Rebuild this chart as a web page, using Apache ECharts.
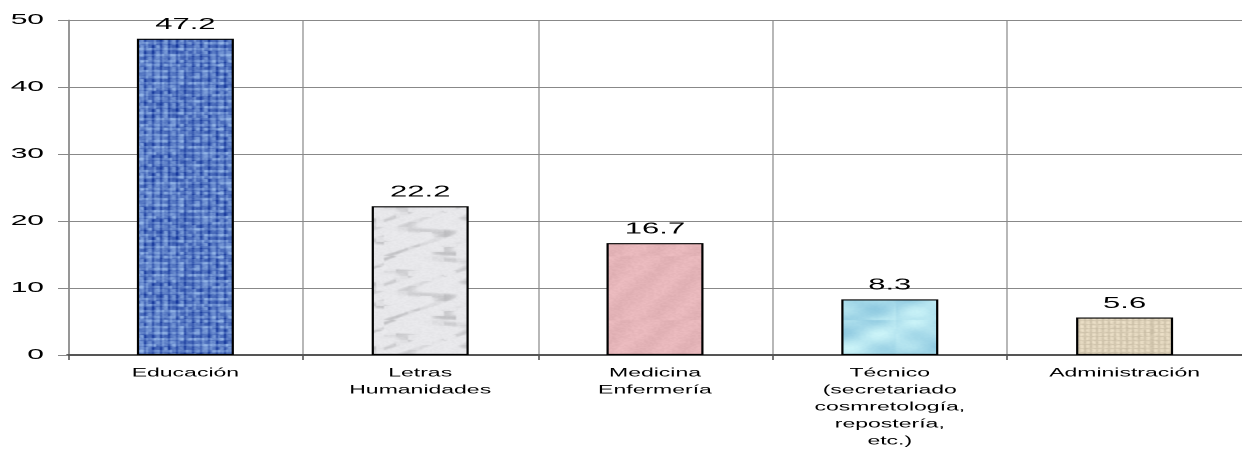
<!DOCTYPE html>
<html>
<head>
<meta charset="utf-8">
<style>
  html, body { margin: 0; padding: 0; background: #fff; overflow: hidden; }
  /* The chart is laid out at half width and stretched horizontally,
     giving the wide, flattened lettering of the original spreadsheet export. */
  #chart { width: 621px; height: 450px; transform: scaleX(2); transform-origin: 0 0; }
</style>
<script src="https://cdn.jsdelivr.net/npm/echarts@6/dist/echarts.min.js"></script>
</head>
<body>
<div id="chart"></div>
<script>
// Areas of study and their percentage
const categories = [
  'Educación',
  'Letras\nHumanidades',
  'Medicina\nEnfermería',
  'Técnico\n(secretariado\ncosmretología,\nrepostería,\netc.)',
  'Administración'
];
const values = [47.2, 22.2, 16.7, 8.3, 5.6];
const yTicks = [0, 10, 20, 30, 40, 50];

// Deterministic hash noise for the fabric / stone / water textures
function hash(x, y, s) {
  const v = Math.sin(x * 127.1 + y * 311.7 + s * 74.7) * 43758.5453;
  return v - Math.floor(v);
}

function makeTexture(kind) {
  const size = 64;
  const c = document.createElement('canvas');
  c.width = size; c.height = size;
  const ctx = c.getContext('2d');
  const img = ctx.createImageData(size, size);
  for (let y = 0; y < size; y++) {
    for (let x = 0; x < size; x++) {
      let r, g, b;
      const n = hash(x, y, 1);
      if (kind === 'weaveBlue') {
        const cx = Math.floor(x / 2), cy = Math.floor(y / 3);
        const cell = hash(cx, cy, 3);
        const warp = (x % 4 < 1) ? -45 : 0;
        const weft = (y % 6 < 2) ? 30 : 0;
        const k = warp + weft + (cell - 0.5) * 60 + (n - 0.5) * 20;
        r = 92 + k; g = 126 + k; b = 198 + k * 0.6;
      } else if (kind === 'marble') {
        const v = Math.sin(x * 0.22 + y * 0.09 + Math.sin(y * 0.21 + x * 0.07) * 2.6);
        const blot = hash(Math.floor(x / 6), Math.floor(y / 5), 2);
        const k = 236 - Math.max(0, v - 0.3) * 65 * blot - n * 8;
        r = k; g = k; b = k + 3;
      } else if (kind === 'pink') {
        const k = (n - 0.5) * 10 + Math.sin(x * 0.3 + y * 0.15) * 4;
        r = 230 + k; g = 182 + k; b = 186 + k;
      } else if (kind === 'water') {
        const d = Math.sin(x * 0.2) * Math.cos(y * 0.23) + Math.sin((x + y) * 0.11);
        const k = d * 16 + (n - 0.5) * 6;
        r = 172 + k; g = 222 + k * 0.7; b = 236 + k * 0.4;
      } else {
        const line = ((x % 3 === 0) || (y % 4 === 0)) ? -24 : 0;
        const k = line + (n - 0.5) * 16;
        r = 232 + k; g = 220 + k; b = 196 + k;
      }
      const i = (y * size + x) * 4;
      img.data[i] = Math.max(0, Math.min(255, r));
      img.data[i + 1] = Math.max(0, Math.min(255, g));
      img.data[i + 2] = Math.max(0, Math.min(255, b));
      img.data[i + 3] = 255;
    }
  }
  ctx.putImageData(img, 0, 0);
  return { image: c, repeat: 'repeat' };
}

const textures = ['weaveBlue', 'marble', 'pink', 'water', 'burlap'].map(makeTexture);

const chart = echarts.init(document.getElementById('chart'), null, { devicePixelRatio: 2 });
chart.setOption({
  animation: false,
  backgroundColor: '#fff',
  textStyle: { fontFamily: 'Liberation Sans, Arial, sans-serif' },
  grid: { left: 34, top: 20, width: 592.5, height: 340, containLabel: false },
  xAxis: {
    type: 'category',
    data: categories,
    axisLine: { lineStyle: { color: '#555', width: 2 } },
    axisTick: { show: true, length: 5, lineStyle: { color: '#555', width: 0.8 } },
    splitLine: { show: true, lineStyle: { color: '#888', width: 0.6 } },
    axisLabel: {
      color: '#000', fontSize: 11.5, lineHeight: 17, margin: 10, interval: 0
    }
  },
  yAxis: {
    type: 'value',
    min: yTicks[0],
    max: yTicks[yTicks.length - 1],
    interval: 10,
    axisLine: { show: true, lineStyle: { color: '#888', width: 0.7 } },
    axisTick: { show: true, length: 5, lineStyle: { color: '#888', width: 1 } },
    splitLine: { show: true, lineStyle: { color: '#888', width: 1 } },
    axisLabel: { color: '#000', fontSize: 15, margin: 12 }
  },
  series: [{
    type: 'bar',
    barWidth: 48.5,
    data: values.map((v, i) => ({
      value: v,
      itemStyle: { color: textures[i] }
    })),
    itemStyle: { borderColor: '#000', borderWidth: 1.1 },
    label: {
      show: true, position: 'top', distance: 6,
      color: '#000', fontSize: 15.5,
      formatter: p => p.value.toFixed(1)
    }
  }]
});
</script>
</body>
</html>
